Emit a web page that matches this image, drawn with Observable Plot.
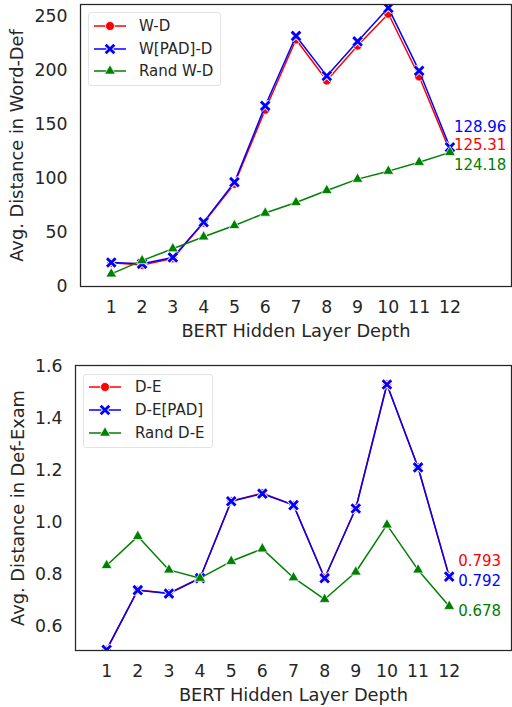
<!DOCTYPE html>
<html><head><meta charset="utf-8">
<script src="https://cdn.jsdelivr.net/npm/d3@7"></script>
<script src="https://cdn.jsdelivr.net/npm/@observablehq/plot@0.6"></script>
<style>
html,body{margin:0;padding:0;background:#fff;}
#wrap{position:relative;width:512px;height:707px;overflow:hidden;font-family:"DejaVu Sans",sans-serif;color:#262626;}
.panel{position:absolute;left:0;}
.legend{position:absolute;background:#fff;border:1px solid #e3e3e3;border-radius:3px;font-size:15px;color:#262626;box-sizing:border-box;}
.legend .row{position:absolute;left:0;height:20px;}
.legend svg{position:absolute;left:5px;top:0;}
.legend span{position:absolute;white-space:nowrap;line-height:20px;top:0;}
</style>
</head><body>
<div id="wrap"></div>
<script>
// ---------- data ----------
const layers = [1,2,3,4,5,6,7,8,9,10,11,12];
const layerTicks = [1,2,3,4,5,6,7,8,9,10,11,12];

// Top panel: Word-Def distances
const wd      = [21.9, 20.0, 26.0, 59.0, 95.0, 163.6, 228.7, 190.7, 223.0, 252.5, 194.4, 125.31];
const wPadD   = [22.2, 21.0, 26.9, 59.6, 96.6, 167.3, 232.0, 195.0, 226.9, 258.0, 199.7, 128.96];
const randWD  = [11.7, 24.0, 35.0, 46.0, 56.5, 68.0, 77.8, 88.9, 99.4, 106.8, 115.0, 124.18];
const topTicks = [0, 50, 100, 150, 200, 250];
const topNames = ["W-D", "W[PAD]-D", "Rand W-D"];
const topEndLabels = ["125.31", "128.96", "124.18"];

// Bottom panel: Def-Exam distances
const de      = [0.511, 0.741, 0.728, 0.787, 1.083, 1.113, 1.068, 0.787, 1.055, 1.532, 1.213, 0.793];
const dePad   = [0.511, 0.740, 0.727, 0.786, 1.082, 1.111, 1.067, 0.786, 1.054, 1.531, 1.212, 0.792];
const randDE  = [0.835, 0.947, 0.818, 0.786, 0.851, 0.899, 0.788, 0.705, 0.810, 0.991, 0.818, 0.678];
const botTicks = [0.6, 0.8, 1.0, 1.2, 1.4, 1.6];
const botNames = ["D-E", "D-E[PAD]", "Rand D-E"];
const botEndLabels = ["0.793", "0.792", "0.678"];

const colors = ["#ff0000", "#0000ff", "#008000"];
const TEXT = "#262626";

function rows(vals){ return layers.map((l,i)=>({x:l, y:vals[i]})); }

function seriesMarks(series){
  const [a,b,c] = series.map(rows);
  return [
    Plot.line(a, {x:"x", y:"y", stroke:colors[0], strokeWidth:1.5, clip:true}),
    Plot.dot(a, {x:"x", y:"y", symbol:"circle", r:4.5, fill:colors[0], stroke:"white", strokeWidth:0.8, clip:true}),
    Plot.line(b, {x:"x", y:"y", stroke:colors[1], strokeWidth:1.5, clip:true}),
    Plot.dot(b, {x:"x", y:"y", symbol:"times", r:4.1, stroke:"white", strokeWidth:4.6, clip:true}),
    Plot.dot(b, {x:"x", y:"y", symbol:"times", r:4.0, stroke:colors[1], strokeWidth:2.9, clip:true}),
    Plot.line(c, {x:"x", y:"y", stroke:colors[2], strokeWidth:1.5, clip:true}),
    Plot.dot(c, {x:"x", y:"y", symbol:"triangle", r:4.0, fill:colors[2], stroke:"white", strokeWidth:0.7, clip:true})
  ];
}

function endLabelMarks(series, labels, dys, dx){
  return series.map((s,i)=>Plot.text([{x:layers[layers.length-1], y:s[s.length-1], t:labels[i]}],
    {x:"x", y:"y", text:"t", fill:colors[i], fontSize:15, textAnchor:"start", dx:dx, dy:dys[i]}));
}

function makePanel(o){
  return Plot.plot({
    width:512, height:o.height,
    marginLeft:o.ml, marginRight:1, marginTop:o.mt, marginBottom:o.mb,
    style:{fontFamily:"DejaVu Sans", fontSize:"17px", color:TEXT, background:"white"},
    x:{domain:[0,14]},
    y:{domain:o.ydomain},
    marks:[
      Plot.axisX({ticks:layerTicks, tickSize:0, tickPadding:o.xpad, tickFormat:d=>String(d), label:null, fontSize:17.3}),
      Plot.axisX({ticks:[], tickSize:0, label:"BERT Hidden Layer Depth", labelAnchor:"center", labelArrow:"none", labelOffset:o.xlo, fontSize:17.8}),
      Plot.axisY({ticks:o.yticks, tickSize:0, tickPadding:13, tickFormat:o.yfmt, label:null, fontSize:17.3}),
      Plot.axisY({ticks:[], tickSize:0, label:o.ylabel, labelAnchor:"center", labelArrow:"none", labelOffset:o.ylo, fontSize:17.8}),
      ...seriesMarks(o.series),
      ...endLabelMarks(o.series, o.endLabels, o.dys, o.dx),
      Plot.frame({stroke:TEXT, strokeWidth:1.25})
    ]
  });
}

function makeLegend(names, box){
  const lg = document.createElement("div");
  lg.className = "legend";
  Object.assign(lg.style, {left:box.left+"px", top:box.top+"px", width:box.w+"px", height:box.h+"px"});
  const syms = ["circle","times","triangle"];
  names.forEach((n,i)=>{
    const row = document.createElement("div");
    row.className = "row";
    row.style.top = (box.rowTop + i*box.rowGap - 10) + "px";
    row.style.width = box.w + "px";
    const svg = d3.create("svg").attr("width",34).attr("height",20);
    svg.append("line").attr("x1",0).attr("x2",32).attr("y1",10).attr("y2",10).attr("stroke",colors[i]).attr("stroke-width",1.5);
    const sym = syms[i];
    if (sym==="circle") svg.append("circle").attr("cx",16).attr("cy",10).attr("r",4.5).attr("fill",colors[i]).attr("stroke","white").attr("stroke-width",0.8);
    else if (sym==="times") {
      svg.append("path").attr("d",d3.symbol(d3.symbolTimes, 4.1*4.1*Math.PI)()).attr("transform","translate(16,10)").attr("stroke","white").attr("stroke-width",4.4).attr("fill","none");
      svg.append("path").attr("d",d3.symbol(d3.symbolTimes, 4.0*4.0*Math.PI)()).attr("transform","translate(16,10)").attr("stroke",colors[i]).attr("stroke-width",2.8).attr("fill","none");
    } else svg.append("path").attr("d",d3.symbol(d3.symbolTriangle, 4.0*4.0*Math.PI)()).attr("transform","translate(16,10)").attr("fill",colors[i]).attr("stroke","white").attr("stroke-width",0.7);
    row.appendChild(svg.node());
    const sp = document.createElement("span");
    sp.textContent = n;
    sp.style.left = box.textLeft + "px";
    row.appendChild(sp);
    lg.appendChild(row);
  });
  return lg;
}

const wrap = document.getElementById("wrap");

const topPanel = makePanel({height:345, ml:80, mt:4, mb:59, ydomain:[0,261.1], yticks:topTicks, yfmt:d=>String(d),
  ylabel:"Avg. Distance in Word-Def", ylo:70, xpad:14, xlo:50,
  series:[wd, wPadD, randWD], endLabels:topEndLabels, dys:[-6,-20,13], dx:4});
topPanel.classList.add("panel"); topPanel.style.top = "0px";
wrap.appendChild(topPanel);

const botPanel = makePanel({height:362, ml:75, mt:20, mb:57, ydomain:[0.508,1.604], yticks:botTicks, yfmt:d3.format(".1f"),
  ylabel:"Avg. Distance in Def-Exam", ylo:64, xpad:14, xlo:50,
  series:[de, dePad, randDE], endLabels:botEndLabels, dys:[-15,5,5], dx:9});
botPanel.classList.add("panel"); botPanel.style.top = "345px";
wrap.appendChild(botPanel);

wrap.appendChild(makeLegend(topNames, {left:88, top:12, w:133, h:74, rowTop:13, rowGap:22.5, textLeft:50}));
wrap.appendChild(makeLegend(botNames, {left:83, top:374, w:130, h:74, rowTop:12, rowGap:23, textLeft:51}));
</script>
</body></html>
